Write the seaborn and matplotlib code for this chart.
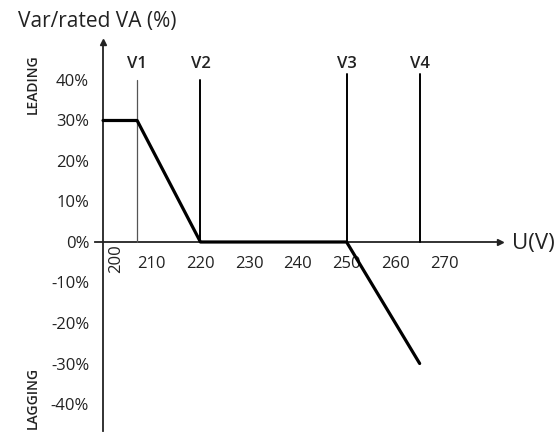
import pandas as pd
import seaborn as sns
from matplotlib import pyplot as plt

# Volt-var curve points
voltage = [200, 207, 220, 250, 265]
var_pct = [30, 30, 0, 0, -30]

# Reference voltages
v_names = ['V1', 'V2', 'V3', 'V4']
v_values = [207, 220, 250, 265]
v_tops = [40, 40, 41.5, 41.5]

x_ticks = [210, 220, 230, 240, 250, 260, 270]
y_ticks = [40, 30, 20, 10, 0, -10, -20, -30, -40]

sns.set_style('white')
plt.rcParams['font.family'] = ['Open Sans', 'DejaVu Sans']

fig = plt.figure(figsize=(5.58, 4.36), dpi=100)
ax = fig.add_axes([0, 0, 1, 1])
ax.set_xlim(178.85, 293.4)
ax.set_ylim(-47.9, 59.75)

df = pd.DataFrame({'U': voltage, 'Q': var_pct})
sns.lineplot(x='U', y='Q', data=df, color='black', lw=2.3, ax=ax, zorder=4)

# vertical reference lines
for i, (name, v, top) in enumerate(zip(v_names, v_values, v_tops)):
    lw, col = (0.9, '#555555') if i == 0 else (1.4, 'black')
    ax.plot([v, v], [0, top], color=col, lw=lw, zorder=3)
    ax.text(v, 44, name, ha='center', va='center', fontsize=12, fontweight='semibold', color='#222222')

# axes drawn as spines through the origin
for s in ['top', 'right']:
    ax.spines[s].set_visible(False)
ax.spines['left'].set_position(('data', 200))
ax.spines['bottom'].set_position(('data', 0))
ax.spines['left'].set_bounds(-46.7, 49.5)
ax.spines['bottom'].set_bounds(198.4, 281.5)
for s in ['left', 'bottom']:
    ax.spines[s].set_linewidth(1.3)
    ax.spines[s].set_color('#222222')
ax.plot(200, 49.5, marker='^', color='#222222', ms=5, clip_on=False)
ax.plot(281.5, 0, marker='>', color='#222222', ms=5, clip_on=False)

ax.set_xticks(x_ticks)
ax.set_xticklabels([str(t) for t in x_ticks])
ax.set_yticks(y_ticks)
ax.set_yticklabels([f'{t}%' for t in y_ticks])
ax.tick_params(axis='both', direction='in', length=6, width=1.5, color='#222222',
               labelsize=12, labelcolor='#222222')
ax.tick_params(axis='y', pad=10)
ax.tick_params(axis='x', pad=10)
ax.text(202.6, -4.0, '200', rotation=90, ha='center', va='center', fontsize=12, color='#222222')

ax.set_xlabel('')
ax.set_ylabel('')
ax.text(182.5, 54.5, 'Var/rated VA (%)', ha='left', va='center', fontsize=15, color='#222222')
ax.text(284, -0.3, 'U(V)', ha='left', va='center', fontsize=16, color='#222222')
ax.text(185.5, 39, 'LEADING', rotation=90, ha='center', va='center', fontsize=10, fontweight='semibold', color='#222222')
ax.text(185.5, -38.5, 'LAGGING', rotation=90, ha='center', va='center', fontsize=10, fontweight='semibold', color='#222222')

plt.savefig('out.png', dpi=100)
